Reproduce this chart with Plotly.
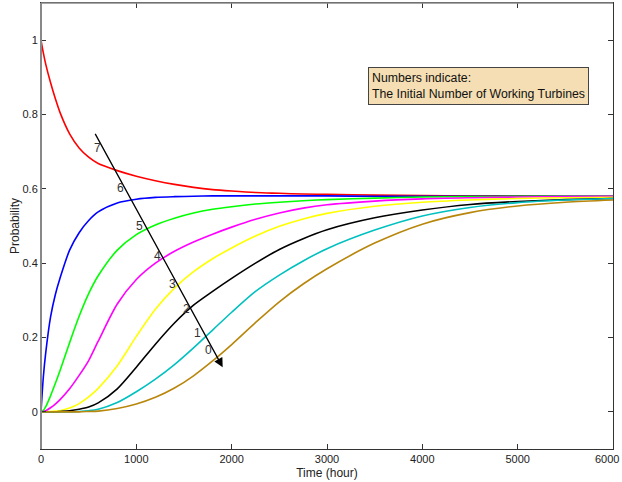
import plotly.graph_objects as go

# Time grid (hours)
t = [0, 25, 50, 100, 150, 200, 300, 400, 500, 600, 800, 1000, 1200, 1400,
     1600, 1800, 2000, 2250, 2500, 2750, 3000, 3500, 4000, 4500, 5000, 5500, 6000]

p7 = [1.0, 0.965, 0.935, 0.886, 0.843, 0.805, 0.748, 0.710, 0.685, 0.668, 0.649, 0.634,
      0.622, 0.612, 0.604, 0.598, 0.594, 0.590, 0.588, 0.586, 0.585, 0.583, 0.582,
      0.581, 0.581, 0.580, 0.580]
p6 = [0, 0.095, 0.16, 0.255, 0.315, 0.36, 0.435, 0.482, 0.515, 0.538, 0.562, 0.572,
      0.577, 0.579, 0.580, 0.581, 0.581, 0.581, 0.581, 0.581, 0.581, 0.580, 0.580,
      0.580, 0.580, 0.580, 0.580]
p5 = [0, 0.004, 0.014, 0.043, 0.076, 0.111, 0.186, 0.257, 0.318, 0.366, 0.435, 0.477,
      0.503, 0.521, 0.535, 0.545, 0.552, 0.559, 0.564, 0.568, 0.571, 0.575, 0.578,
      0.579, 0.580, 0.580, 0.580]
p4 = [0, 0.001, 0.003, 0.011, 0.021, 0.033, 0.062, 0.098, 0.138, 0.190, 0.290, 0.356,
      0.400, 0.432, 0.457, 0.478, 0.497, 0.518, 0.535, 0.548, 0.557, 0.567, 0.573,
      0.576, 0.578, 0.579, 0.580]
p3 = [0, 0, 0, 0.001, 0.002, 0.003, 0.010, 0.022, 0.040, 0.063, 0.124, 0.203, 0.276,
      0.333, 0.377, 0.412, 0.441, 0.473, 0.499, 0.519, 0.534, 0.553, 0.564, 0.570,
      0.574, 0.576, 0.577]
p2 = [0, 0, 0, 0, 0, 0.001, 0.003, 0.007, 0.013, 0.024, 0.062, 0.120, 0.182, 0.239,
      0.287, 0.324, 0.359, 0.400, 0.437, 0.466, 0.490, 0.522, 0.543, 0.558, 0.566,
      0.571, 0.574]
p1 = [0, 0, 0, 0, 0, 0, 0, 0.001, 0.003, 0.007, 0.025, 0.054, 0.088, 0.127, 0.172,
      0.220, 0.268, 0.324, 0.368, 0.406, 0.439, 0.489, 0.527, 0.550, 0.563, 0.570, 0.574]
p0 = [0, 0, 0, 0, 0, 0, 0, 0, 0.001, 0.002, 0.009, 0.021, 0.039, 0.064, 0.097, 0.137,
      0.181, 0.240, 0.296, 0.344, 0.385, 0.454, 0.505, 0.536, 0.554, 0.564, 0.570]

series = [p7, p6, p5, p4, p3, p2, p1, p0]
names = ["7", "6", "5", "4", "3", "2", "1", "0"]
colors = ["#FF0000", "#0000FF", "#00FF00", "#FF00FF", "#FFFF00", "#000000",
          "#00C0C0", "#B8860B"]

# Arrow (start -> end) in data coords and curve labels along it
arrow_start = (560, 0.752)
arrow_end = (1906, 0.12)
label_text = ["7", "6", "5", "4", "3", "2", "1", "0"]
label_x = [591, 836, 1031, 1220, 1381, 1521, 1640, 1755]
label_y = [0.711, 0.601, 0.499, 0.418, 0.343, 0.277, 0.211, 0.166]

x_ticks = [0, 1000, 2000, 3000, 4000, 5000, 6000]
y_ticks = [0, 0.2, 0.4, 0.6, 0.8, 1]
y_ticktext = ["0", "0.2", "0.4", "0.6", "0.8", "1"]

FONT = "Liberation Sans, Arial, sans-serif"

fig = go.Figure()
for s, n, c in zip(series, names, colors):
    fig.add_trace(go.Scatter(x=t, y=s, mode="lines", name=n,
                             line=dict(color=c, width=1.6, shape="spline", smoothing=0.8),
                             showlegend=False, hoverinfo="skip"))

fig.add_annotation(x=arrow_end[0], y=arrow_end[1], ax=arrow_start[0], ay=arrow_start[1],
                   xref="x", yref="y", axref="x", ayref="y", text="", showarrow=True,
                   arrowhead=2, arrowsize=1.4, arrowwidth=1.3, arrowcolor="#000000")

for txt, lx, ly in zip(label_text, label_x, label_y):
    fig.add_annotation(x=lx, y=ly, xref="x", yref="y", text=txt, showarrow=False,
                       font=dict(family=FONT, size=12, color="#333333"))

# last x tick label, kept inside the page
fig.add_annotation(x=x_ticks[-1], y=0, xref="x", yref="paper", yanchor="top",
                   xanchor="right", xshift=8, yshift=-2, text=str(x_ticks[-1]),
                   showarrow=False, font=dict(family=FONT, size=11, color="#222222"))

fig.add_annotation(x=0.571, y=0.813, xref="paper", yref="paper", xanchor="left",
                   yanchor="middle", align="left", showarrow=False,
                   text="Numbers indicate:<br>The Initial Number of Working Turbines",
                   font=dict(family=FONT, size=12.3, color="#111111"),
                   bgcolor="#F5DEB3", bordercolor="#444444", borderwidth=1, borderpad=3)

# gray left/top spines as in reference
fig.add_shape(type="line", xref="paper", yref="paper", x0=0, x1=0, y0=0, y1=1,
              line=dict(color="#888888", width=2))
fig.add_shape(type="line", xref="paper", yref="paper", x0=0, x1=1, y0=1, y1=1,
              line=dict(color="#888888", width=1.5))

fig.update_layout(
    width=622, height=482,
    margin=dict(l=41, r=9, t=3, b=33),
    paper_bgcolor="white", plot_bgcolor="white",
    font=dict(family=FONT, size=11, color="#222222"),
    xaxis=dict(range=[0, 6000], tickvals=x_ticks[:-1], ticks="inside", ticklen=5,
               tickcolor="#333333", showline=True, linecolor="#333333", linewidth=1,
               mirror="ticks", showgrid=False, zeroline=False,
               title=dict(text="Time (hour)", font=dict(size=12), standoff=4)),
    yaxis=dict(range=[-0.1, 1.1], tickvals=y_ticks, ticktext=y_ticktext, ticks="inside",
               ticklen=5, tickcolor="#333333", showline=True, linecolor="#333333",
               linewidth=1, mirror="ticks", showgrid=False, zeroline=False,
               title=dict(text="Probability", font=dict(size=12), standoff=0)),
)

fig.write_html("out.html")
